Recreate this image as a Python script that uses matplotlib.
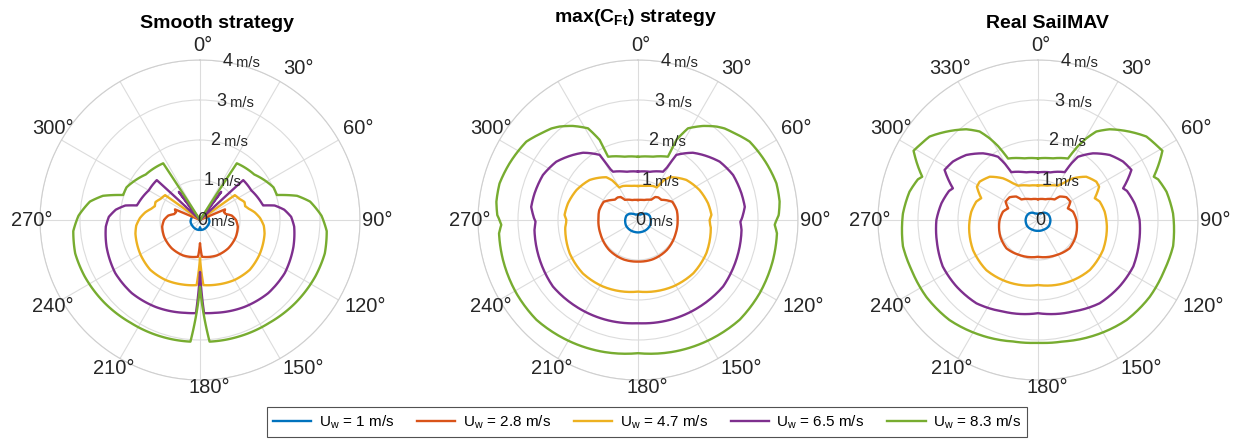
import numpy as np
import matplotlib.pyplot as plt
from matplotlib.lines import Line2D

plt.rcParams['font.family'] = ['Liberation Sans', 'DejaVu Sans']
plt.rcParams['mathtext.fontset'] = 'custom'
plt.rcParams['mathtext.rm'] = 'Liberation Sans'
plt.rcParams['mathtext.bf'] = 'Liberation Sans:bold'

titles = ['Smooth strategy', r'max(C$_{\mathbf{Ft}}$) strategy', 'Real SailMAV']
wind_speeds = ['1', '2.8', '4.7', '6.5', '8.3']
colors = ['#0072BD', '#D95319', '#EDB120', '#7E2F8E', '#77AC30']

# boat speed polars, starboard half only: (heading deg, speed m/s)
smooth_u1 = [(0, 0), (44, 0), (45, 0.15), (60, 0.2), (80, 0.22), (100, 0.24), (130, 0.24),
             (160, 0.25), (176, 0.25), (180, 0.18)]
smooth_u2 = [(0, 0), (66.5, 0), (67, 0.68), (72, 0.63), (77, 0.66), (82, 0.8), (90, 0.9),
             (100, 0.96), (115, 0.99), (135, 1.0), (155, 0.98), (170, 0.94), (177, 0.92),
             (180, 0.58)]
smooth_u3 = [(0, 0), (54, 0), (54.5, 1.07), (62, 1.12), (68, 1.2), (73, 1.18), (77, 1.25),
             (82, 1.38), (88, 1.5), (95, 1.6), (102, 1.65), (120, 1.72), (135, 1.76),
             (150, 1.73), (165, 1.67), (177, 1.63), (180, 0.95)]
smooth_u4 = [(0, 0), (36.5, 0), (37, 0.88), (37.5, 0), (46.8, 0), (47.3, 1.47), (60, 1.48),
             (75, 1.6), (77, 1.62), (79, 1.9), (83, 2.12), (88, 2.28), (94, 2.36), (106, 2.43),
             (122, 2.5), (137, 2.5), (153, 2.44), (171, 2.35), (177.5, 2.33), (180, 1.3)]
smooth_u5 = [(0, 0), (32.5, 0), (33, 1.69), (50, 1.77), (66, 2.01), (72, 2.02), (76, 2.5),
             (80.5, 2.79), (88, 3.04), (95, 3.18), (105, 3.23), (116, 3.21), (131, 3.16),
             (146, 3.1), (162, 3.07), (175.5, 3.05), (180, 1.67)]

maxcf_u1 = [(0, 0.13), (25, 0.15), (40, 0.2), (55, 0.27), (70, 0.31), (90, 0.32), (115, 0.33),
            (140, 0.32), (165, 0.31), (180, 0.31)]
maxcf_u2 = [(0, 0.5), (16.5, 0.52), (33, 0.6), (37, 0.72), (42, 0.76), (49, 0.77), (62, 0.97),
            (76, 1.0), (90, 0.99), (110, 1.0), (136, 1.04), (160, 1.05), (180, 1.04)]
maxcf_u3 = [(0, 0.85), (12, 0.87), (24, 0.93), (30, 0.94), (33, 1.18), (36.5, 1.33),
            (50.4, 1.57), (64, 1.71), (76.6, 1.8), (86, 1.84), (90, 1.79), (93, 1.8),
            (96, 1.83), (116, 1.9), (134, 1.92), (152, 1.88), (180, 1.79)]
maxcf_u4 = [(0, 1.21), (13.7, 1.24), (27.4, 1.36), (28.8, 1.47), (30.5, 1.89), (39.2, 2.17),
            (45, 2.3), (54.5, 2.51), (64.7, 2.63), (75.5, 2.67), (83, 2.69), (89, 2.6),
            (91, 2.56), (95.5, 2.6), (112, 2.65), (128, 2.7), (144.6, 2.66), (162.5, 2.62),
            (180, 2.58)]
maxcf_u5 = [(0, 1.58), (12.6, 1.62), (25.3, 1.75), (25.6, 2.22), (28.6, 2.61), (34.7, 2.86),
            (40, 3.05), (43.4, 3.15), (47.4, 3.23), (54.9, 3.41), (66.2, 3.51), (75.2, 3.58),
            (82.6, 3.57), (88, 3.52), (90, 3.46), (92, 3.42), (95.5, 3.49), (106.5, 3.52),
            (121, 3.55), (134.5, 3.56), (149, 3.49), (165, 3.41), (180, 3.33)]

real_u1 = [(0, 0.15), (25, 0.18), (40, 0.24), (55, 0.28), (70, 0.3), (90, 0.31), (120, 0.31),
           (150, 0.28), (180, 0.27)]
real_u2 = [(0, 0.52), (19.5, 0.55), (38.9, 0.66), (42.8, 0.8), (51.3, 0.91), (60.5, 0.93),
           (68.7, 0.8), (76.6, 0.9), (90, 0.96), (113.9, 1.03), (131.9, 1.06), (152.4, 0.99),
           (180, 0.92)]
real_u3 = [(0, 0.86), (15, 0.89), (30, 0.99), (34.3, 1.11), (40, 1.36), (48.1, 1.62),
           (56.7, 1.745), (61.4, 1.74), (69, 1.52), (73.4, 1.61), (82.9, 1.68), (95.5, 1.73),
           (114.8, 1.79), (134, 1.8), (152.9, 1.73), (180, 1.625)]
real_u4 = [(0, 1.19), (14.6, 1.23), (29.2, 1.37), (30.5, 1.64), (32.3, 1.87), (39.5, 2.16),
           (47.8, 2.42), (55.5, 2.58), (61.8, 2.65), (69.6, 2.27), (71.9, 2.34), (80.2, 2.45),
           (90, 2.54), (103, 2.59), (116, 2.65), (129, 2.63), (143.5, 2.59), (159, 2.45),
           (180, 2.33)]
real_u5 = [(0, 1.54), (13, 1.58), (26, 1.71), (28.4, 2.1), (30.6, 2.37), (33.4, 2.65),
           (38.3, 2.89), (46, 3.18), (52.4, 3.42), (57.6, 3.5), (60.9, 3.56), (69.5, 3.09),
           (71.3, 3.17), (77.6, 3.29), (87.2, 3.38), (101, 3.44), (111.5, 3.4), (124.5, 3.39),
           (138.5, 3.34), (153, 3.22), (168.4, 3.1), (180, 3.07)]

polars = [
    [smooth_u1, smooth_u2, smooth_u3, smooth_u4, smooth_u5],
    [maxcf_u1, maxcf_u2, maxcf_u3, maxcf_u4, maxcf_u5],
    [real_u1, real_u2, real_u3, real_u4, real_u5],
]

r_ticks = [0, 1, 2, 3, 4]
theta_ticks = [0, 30, 60, 90, 120, 150, 180, 210, 240, 270, 300, 330]
# where each heading label sits: (angle deg, radius)
theta_label_pos = [(1, 4.37), (32.9, 4.52), (59.9, 4.57), (90, 4.42), (117.7, 4.66),
                   (145, 4.52), (176.9, 4.2), (210.3, 4.29), (239.6, 4.28), (270, 4.2),
                   (301.9, 4.34), (329.9, 4.38)]

centers_px = [200, 638, 1038]
title_x_px = [217, 635, 1047]
title_base_px = [28, 22, 28]

W, H = 1240, 440
GRAY = '#262626'


def mirrored(half):
    a = np.array(half, dtype=float)
    th = np.concatenate([a[:, 0], 360 - a[-2::-1, 0]])
    r = np.concatenate([a[:, 1], a[-2::-1, 1]])
    return np.deg2rad(th), r


def setupAxes(ax, index):
    ax.set_theta_zero_location('N')
    ax.set_theta_direction(-1)
    ax.set_ylim(0, 4)
    ax.set_yticks(r_ticks[1:])
    ax.set_yticklabels([])
    ax.set_xticks(np.deg2rad(theta_ticks))
    ax.set_xticklabels([])
    ax.tick_params(length=0)
    ax.grid(True, color='#dcdcdc', linewidth=0.8)
    ax.spines['polar'].set_color('#cfcfcf')
    ax.spines['polar'].set_linewidth(0.8)

    for deg, (pos, rad) in zip(theta_ticks, theta_label_pos):
        if deg == 330 and index < 2:
            continue
        ax.text(np.deg2rad(pos), rad, f'{deg}°', fontsize=14.5, color=GRAY,
                ha='center', va='center', clip_on=False)

    for r in r_ticks:
        num = ax.annotate(str(r), xy=(np.deg2rad(9), r), xytext=(-2, 0),
                          textcoords='offset points', fontsize=13, color=GRAY,
                          ha='left', va='center', zorder=5)
        if r == 0 and index == 2:
            continue
        ax.annotate(' m/s', xy=(1, 0), xycoords=num, fontsize=10.5, color=GRAY,
                    ha='left', va='bottom', zorder=5)


fig = plt.figure(figsize=(W / 100, H / 100), dpi=100)

for i, curves in enumerate(polars):
    cx = centers_px[i]
    ax = fig.add_axes([(cx - 160) / W, (H - 380) / H, 320 / W, 320 / H], projection='polar')
    setupAxes(ax, i)
    for half, color in zip(curves, colors):
        th, r = mirrored(half)
        line, = ax.plot(th, r, color=color, linewidth=1.7)
        # follow the polar grid between samples instead of cutting chords
        line.get_path()._interpolation_steps = 16
    fig.text(title_x_px[i] / W, 1 - title_base_px[i] / H, titles[i], fontsize=14,
             fontweight='bold', ha='center', va='baseline')

handles = [Line2D([], [], color=c, linewidth=1.7) for c in colors]
labels = [r'U$_\mathregular{w}$ = ' + u + ' m/s' for u in wind_speeds]
leg = fig.legend(handles, labels, loc='center', bbox_to_anchor=(647 / W, 1 - 422 / H),
                 ncol=5, fontsize=11, frameon=True, fancybox=False, edgecolor=GRAY,
                 handlelength=2.5, handletextpad=0.5, columnspacing=1.5, borderpad=0.4)
leg.get_frame().set_linewidth(0.8)

fig.savefig('out.png', dpi=100)
